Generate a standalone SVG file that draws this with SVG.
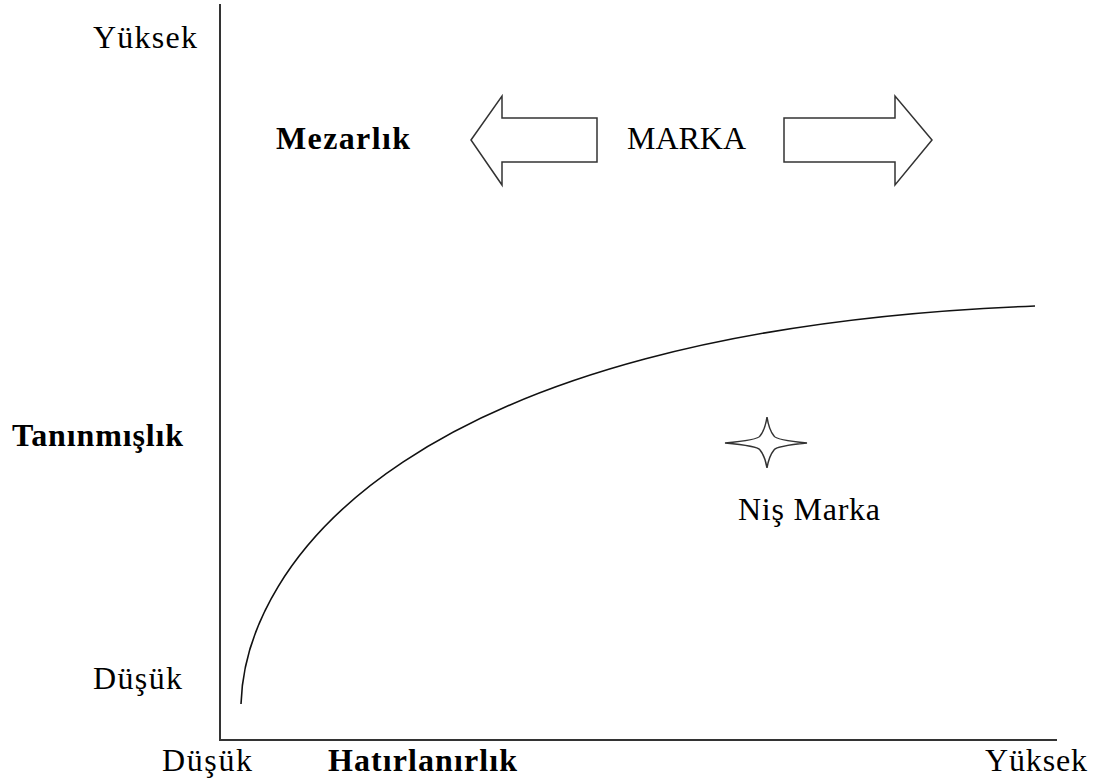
<svg xmlns="http://www.w3.org/2000/svg" width="1104" height="781" viewBox="0 0 1104 781">
<style>
.t{font-family:"Liberation Serif","Times New Roman",serif;font-size:32px;fill:#000}
.b{font-weight:bold}
.ax{stroke:#333;stroke-width:2;fill:none}
.sh{fill:#fff;stroke:#333;stroke-width:1.5;stroke-linejoin:miter}
</style>
<rect width="1104" height="781" fill="#fff"/>
<g id="axes">
<line class="ax" x1="220" y1="4" x2="220" y2="741"/>
<line class="ax" x1="219" y1="740" x2="1057" y2="740"/>
</g>
<g id="curve">
<path d="M241,704 C245,565 405,330 1035,306" fill="none" stroke="#111" stroke-width="1.6"/>
</g>
<g id="labels">
<text class="t" x="93" y="48" textLength="104">Yüksek</text>
<text class="t" x="93" y="689" textLength="89">Düşük</text>
<text class="t b" x="12" y="446" textLength="171">Tanınmışlık</text>
<text class="t" x="162" y="771" textLength="90">Düşük</text>
<text class="t b" x="328" y="771" textLength="189">Hatırlanırlık</text>
<text class="t" x="985" y="771" textLength="102">Yüksek</text>
</g>
<g id="mezarlik"><text class="t b" x="276" y="149" textLength="134">Mezarlık</text></g>
<g id="marka"><text class="t" x="627" y="149" textLength="119">MARKA</text></g>
<g id="arrow-left"><path class="sh" d="M471,140 L502,96 L502,118 L597,118 L597,162 L502,162 L502,185 Z"/></g>
<g id="arrow-right"><path class="sh" d="M932,140 L895,96 L895,118 L784,118 L784,162 L895,162 L895,185 Z"/></g>
<g id="nis-marka">
<path class="sh" d="M725,443 Q758,440 760,436 Q765,430 767,417 Q769,430 774,436 Q776,440 807,443 Q776,446 774,450 Q769,456 767,468 Q765,456 760,450 Q758,446 725,443 Z"/>
<text class="t" x="738" y="520" textLength="142">Niş Marka</text>
</g>
</svg>
